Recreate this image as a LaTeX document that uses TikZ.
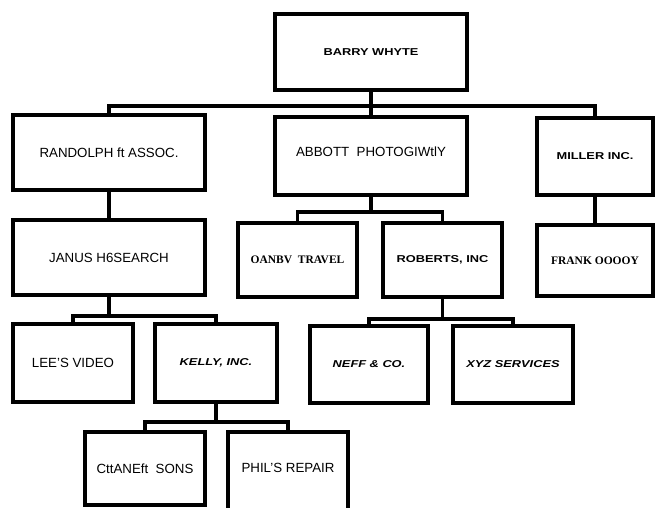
\documentclass[tikz,border=0pt]{standalone}
\usepackage{fontspec}
\setmainfont{Liberation Sans}
\newfontfamily\boldwide[FakeStretch=1.28]{Liberation Sans}
\newfontfamily\serifbold{Liberation Serif}
\tikzset{
  box/.style={draw=black, line width=3.2pt, rectangle, inner sep=0pt, fill=white},
  conn/.style={draw=black, line width=3.2pt},
  plain/.style={font=\fontsize{13.3}{15}\selectfont},
  bwide/.style={font=\boldwide\bfseries\fontsize{10}{12}\selectfont},
  bwideit/.style={font=\boldwide\bfseries\itshape\fontsize{10}{12}\selectfont},
  sbold/.style={font=\serifbold\bfseries\fontsize{11.5}{13}\selectfont},
}
\begin{document}
\begin{tikzpicture}[x=1pt,y=-1pt]
\clip (0,0) rectangle (655,507);
\fill[white] (0,0) rectangle (655,507);
% boxes
\node[box,bwide,minimum width=192pt,minimum height=76pt] (barry) at (371,52) {BARRY WHYTE};
\node[box,plain,minimum width=192pt,minimum height=75pt] (randolph) at (109,152.5) {RANDOLPH ft ASSOC.};
\node[box,plain,minimum width=192pt,minimum height=78pt,text depth=8pt] (abbott) at (371,156) {ABBOTT\ \ PHOTOGIWtlY};
\node[box,bwide,minimum width=116pt,minimum height=77pt] (miller) at (595,156.5) {MILLER INC.};
\node[box,sbold,minimum width=116pt,minimum height=71pt] (frank) at (595,260.5) {FRANK OOOOY};
\node[box,plain,minimum width=192pt,minimum height=75pt] (janus) at (109,257.5) {JANUS H6SEARCH};
\node[box,sbold,minimum width=119pt,minimum height=74pt] (oanbv) at (297.5,260) {OANBV\ \ TRAVEL};
\node[box,bwide,minimum width=119pt,minimum height=74pt] (roberts) at (442.5,260) {ROBERTS, INC};
\node[box,plain,minimum width=120pt,minimum height=78pt] (lee) at (73,363) {LEE'S VIDEO};
\node[box,bwideit,minimum width=122pt,minimum height=78pt] (kelly) at (216,363) {KELLY, INC.};
\node[box,bwideit,minimum width=118pt,minimum height=77pt] (neff) at (369,364.5) {NEFF \& CO.};
\node[box,bwideit,minimum width=120pt,minimum height=77pt] (xyz) at (513,364.5) {XYZ SERVICES};
\node[box,plain,minimum width=120pt,minimum height=73pt] (crane) at (145,468.5) {CttANEft\ \ SONS};
\node[box,plain,minimum width=120pt,minimum height=78pt,text depth=6pt] (phil) at (288,471) {PHIL'S REPAIR};
% bus coordinates
\coordinate (b1) at (371,106);
\coordinate (b2) at (371,212);
\coordinate (b3) at (442.5,319);
\coordinate (b4) at (109,316);
\coordinate (b5) at (216,422);
% connectors
\draw[conn] (barry.south) -- (abbott.north);
\draw[conn] (randolph.north) |- (b1) -| (miller.north);
\draw[conn] (randolph.south) -- (janus.north);
\draw[conn] (miller.south) -- (frank.north);
\draw[conn] (abbott.south) -- (b2);
\draw[conn] (oanbv.north) |- (b2) -| (roberts.north);
\draw[conn] (roberts.south) -- (b3);
\draw[conn] (neff.north) |- (b3) -| (xyz.north);
\draw[conn] (janus.south) -- (b4);
\draw[conn] (lee.north) |- (b4) -| (kelly.north);
\draw[conn] (kelly.south) -- (b5);
\draw[conn] (crane.north) |- (b5) -| (phil.north);
\end{tikzpicture}
\end{document}
